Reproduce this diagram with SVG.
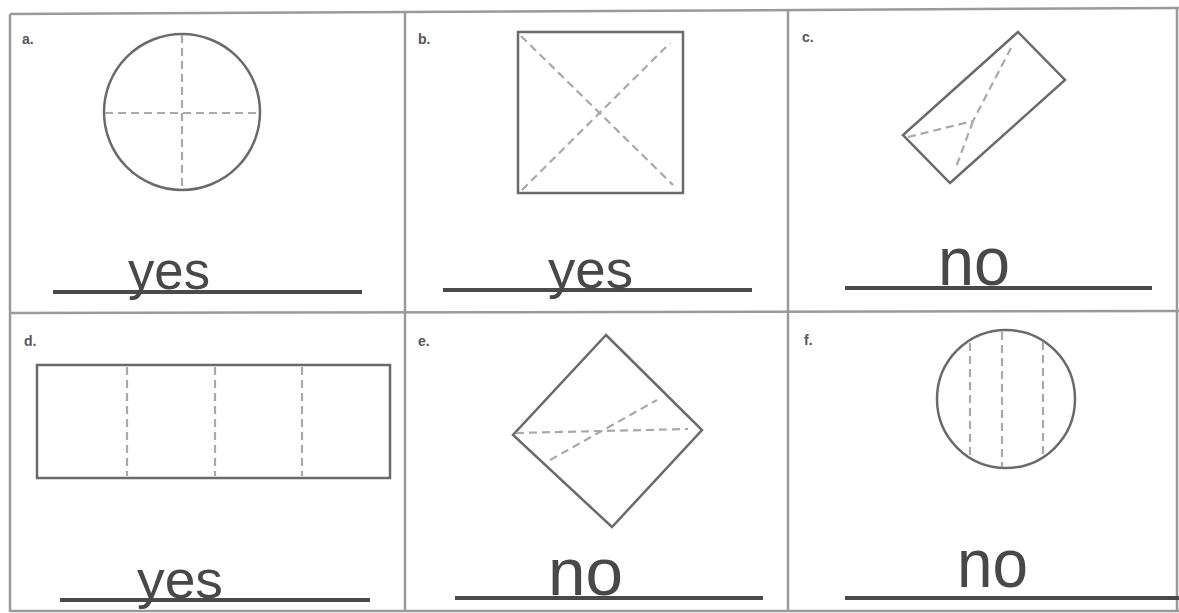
<svg xmlns="http://www.w3.org/2000/svg" width="1179" height="613" viewBox="0 0 1179 613">
<style>
.frame{stroke:#9a9a9a;stroke-width:2.5;fill:none}
.shape{stroke:#6a6a6a;stroke-width:2.5;fill:none}
.dash{stroke:#a8a8b0;stroke-width:2.2;fill:none;stroke-dasharray:8 5}
.under{stroke:#4a4a4a;stroke-width:4;fill:none}
.lbl{font-family:"Liberation Sans",Arial,sans-serif;font-size:14px;font-weight:bold;fill:#555}
.ans{font-family:"Liberation Sans",Arial,sans-serif;fill:#484848}
</style>
<rect width="1179" height="613" fill="#ffffff"/>
<g id="frame">
<line class="frame" x1="10" y1="14" x2="1179" y2="8"/>
<line class="frame" x1="10" y1="14" x2="10" y2="612"/>
<line class="frame" x1="1177" y1="8" x2="1177" y2="612"/>
<line class="frame" x1="10" y1="611" x2="1179" y2="611"/>
<line class="frame" x1="405" y1="12" x2="405" y2="612"/>
<line class="frame" x1="788" y1="11" x2="788" y2="612"/>
<line class="frame" x1="10" y1="313" x2="1179" y2="311"/>
</g>
<g id="panel-a">
<text class="lbl" x="22" y="44">a.</text>
<circle class="shape" cx="182" cy="112" r="78"/>
<line class="dash" x1="182" y1="35" x2="182" y2="190"/>
<line class="dash" x1="105" y1="113" x2="259" y2="113"/>
<line class="under" x1="53" y1="292" x2="362" y2="292"/>
<text class="ans" x="128" y="289" font-size="54" textLength="82" lengthAdjust="spacingAndGlyphs">yes</text>
</g>
<g id="panel-b">
<text class="lbl" x="418" y="44">b.</text>
<rect class="shape" x="518" y="32" width="165" height="161"/>
<line class="dash" x1="521" y1="36" x2="673" y2="185"/>
<line class="dash" x1="522" y1="190" x2="670" y2="43"/>
<line class="under" x1="443" y1="290" x2="752" y2="290"/>
<text class="ans" x="548" y="288" font-size="54" textLength="85" lengthAdjust="spacingAndGlyphs">yes</text>
</g>
<g id="panel-c">
<text class="lbl" x="802" y="42">c.</text>
<polygon class="shape" points="1018,32 1065,80 950,183 903,135"/>
<line class="dash" x1="1011" y1="48" x2="973" y2="121"/>
<line class="dash" x1="973" y1="121" x2="955" y2="170"/>
<line class="dash" x1="908" y1="137" x2="973" y2="121"/>
<line class="under" x1="845" y1="288" x2="1152" y2="288"/>
<text class="ans" x="938" y="285" font-size="68" textLength="72" lengthAdjust="spacingAndGlyphs">no</text>
</g>
<g id="panel-d">
<text class="lbl" x="24" y="346">d.</text>
<rect class="shape" x="37" y="365" width="353" height="113"/>
<line class="dash" x1="127" y1="367" x2="127" y2="476"/>
<line class="dash" x1="215" y1="367" x2="215" y2="476"/>
<line class="dash" x1="302" y1="367" x2="302" y2="476"/>
<line class="under" x1="60" y1="600" x2="370" y2="600"/>
<text class="ans" x="137" y="598" font-size="54" textLength="86" lengthAdjust="spacingAndGlyphs">yes</text>
</g>
<g id="panel-e">
<text class="lbl" x="418" y="346">e.</text>
<polygon class="shape" points="606,335 702,430 612,527 513,435"/>
<line class="dash" x1="516" y1="433" x2="688" y2="429"/>
<line class="dash" x1="550" y1="460" x2="657" y2="400"/>
<line class="under" x1="455" y1="598" x2="763" y2="598"/>
<text class="ans" x="548" y="595" font-size="66" textLength="75" lengthAdjust="spacingAndGlyphs">no</text>
</g>
<g id="panel-f">
<text class="lbl" x="804" y="345">f.</text>
<circle class="shape" cx="1006" cy="399" r="69"/>
<line class="dash" x1="970" y1="343" x2="970" y2="456"/>
<line class="dash" x1="1002" y1="332" x2="1002" y2="467"/>
<line class="dash" x1="1043" y1="342" x2="1043" y2="456"/>
<line class="under" x1="845" y1="598" x2="1179" y2="598"/>
<text class="ans" x="957" y="587" font-size="68" textLength="71" lengthAdjust="spacingAndGlyphs">no</text>
</g>
</svg>
